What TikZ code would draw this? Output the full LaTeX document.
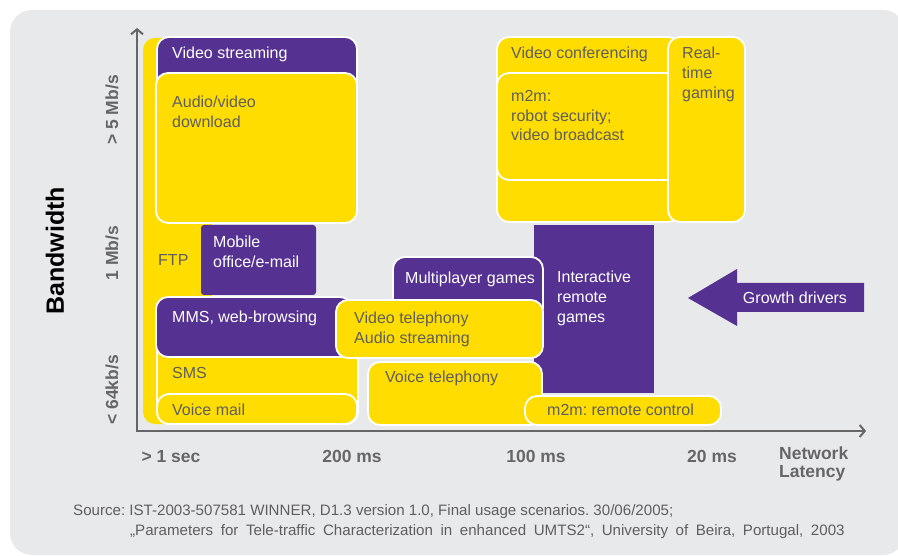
\documentclass[tikz,border=0pt]{standalone}
\usepackage{fontspec}
\setmainfont{Liberation Sans}
\usetikzlibrary{arrows.meta}
\definecolor{bggrey}{HTML}{E8E9EB}
\definecolor{vyellow}{HTML}{FFDD00}
\definecolor{vpurple}{HTML}{553191}
\definecolor{txtgrey}{HTML}{5E5E5E}
\definecolor{axisgrey}{HTML}{666666}
\frenchspacing
\begin{document}
\begin{tikzpicture}[x=1pt,y=-1pt,
  ybox/.style={fill=vyellow, draw=white, line width=1.8pt, rounded corners=12pt},
  pbox/.style={fill=vpurple, draw=white, line width=1.8pt, rounded corners=12pt},
  % multi-line labels are placed by the baseline of their last line
  ytext/.style={font=\fontsize{16}{19.6}\selectfont, text=txtgrey, anchor=base west, inner sep=0pt, align=left},
  ptext/.style={ytext, text=white},
  ticklbl/.style={font=\fontsize{17.5}{18}\selectfont\bfseries, text=axisgrey, inner sep=0pt, anchor=base},
  axisline/.style={draw=axisgrey, line width=2.2pt, -{Straight Barb[length=5pt, width=12pt, line width=2pt]}},
  srctext/.style={font=\fontsize{15.1}{20}\selectfont, text=txtgrey, inner sep=0pt, anchor=base west},
]
\useasboundingbox (0,0) rectangle (898,556);

% panel
\fill[bggrey, rounded corners=22pt] (10,10) rectangle (905,555);

% ---- left group: slow services ----
\fill[vyellow, rounded corners=12pt] (143,38) rectangle (212,424);
\draw[pbox] (157,37) rectangle (357,110);
\draw[ybox] (156,73) rectangle (357,223);
\fill[vpurple, rounded corners=3pt] (201,225) rectangle (316,295);
\draw[ybox] (157,340) rectangle (358,424);
\draw[pbox] (156,297) rectangle (352,357);
\draw[ybox] (157,394) rectangle (357,424);

% ---- middle group ----
\fill[vpurple] (534,225) rectangle (654,393);
\draw[pbox] (393,257) rectangle (543,320);
\draw[ybox] (336,300) rectangle (543,358);
\draw[ybox] (368,362) rectangle (542,425);
\draw[ybox] (525,396) rectangle (721,425);

% ---- upper right group: high bandwidth ----
\draw[ybox] (497,37) rectangle (680,222);
\draw[ybox] (497,73) rectangle (690,180);
\draw[ybox] (668,37) rectangle (745,222);

% labels inside the boxes
\node[ptext] (vstream) at (172,59) {Video streaming};
\node[ytext] (avdl) at (172,127.6) {Audio/video\\download};
\node[ytext] (ftp) at (158,266) {FTP};
\node[ptext] (mobile) at (213,267.6) {Mobile\\office/e-mail};
\node[ptext] (mms) at (172,323) {MMS, web-browsing};
\node[ytext] (sms) at (172,379) {SMS};
\node[ytext] (vmail) at (172,416) {Voice mail};
\node[ptext] (mpgames) at (405,284) {Multiplayer games};
\node[ytext] (vtel) at (354,343.6) {Video telephony\\Audio streaming};
\node[ytext] (voicetel) at (385,383) {Voice telephony};
\node[ptext] (irgames) at (557,322.2) {Interactive\\remote\\games};
\node[ytext] (m2mrc) at (547,415) {m2m: remote control};
\node[ytext] (vconf) at (511,59) {Video conferencing};
\node[ytext] (m2mrob) at (511,141) {m2m:\\robot security;\\video broadcast};
\node[ytext] (rtgame) at (682,98.2) {Real-\\time\\gaming};

% growth arrow
\fill[vpurple] (688,298) -- (737,269) -- (737,283) -- (864,283) -- (864,312)
  -- (737,312) -- (737,326) -- cycle;
\node[font=\fontsize{16}{19}\selectfont, text=white, inner sep=0pt, anchor=base] (growth) at (795,304) {Growth drivers};

% axes
\coordinate (origin) at (137,431);
\coordinate (ytop) at (137,28);
\coordinate (xend) at (866,431);
\draw[axisline] (origin) -- (ytop);
\draw[axisline] (origin) -- (xend);
\draw[draw=axisgrey, line width=2.2pt, line cap=rect] (137,420) -- (origin) -- (150,431);

% axis labels
\node[ticklbl] (t1) at (171,462) {> 1 sec};
\node[ticklbl] (t2) at (352,462) {200 ms};
\node[ticklbl] (t3) at (536,462) {100 ms};
\node[ticklbl] (t4) at (712,462) {20 ms};
\node[ticklbl, anchor=base west, align=left] (latency) at (779,477) {Network\\Latency};

\node[ticklbl, rotate=90, anchor=center] (b5) at (112,110) {> 5 Mb/s};
\node[ticklbl, rotate=90, anchor=center] (b1) at (112,253) {1 Mb/s};
\node[ticklbl, rotate=90, anchor=center] (b64) at (112,390) {< 64kb/s};
\node[font=\fontsize{25}{26}\selectfont\bfseries, text=black, rotate=90, inner sep=0pt, anchor=center] (bw) at (55,251) {Bandwidth};

% source note
\node[srctext] (src1) at (73,515) {Source: IST-2003-507581 WINNER, D1.3 version 1.0, Final usage scenarios. 30/06/2005;};
\node[srctext] (src2) at (130,535) {\spaceskip=7.6pt plus 1pt„Parameters for Tele-traffic Characterization in enhanced UMTS2“, University of Beira, Portugal, 2003};
\end{tikzpicture}
\end{document}
